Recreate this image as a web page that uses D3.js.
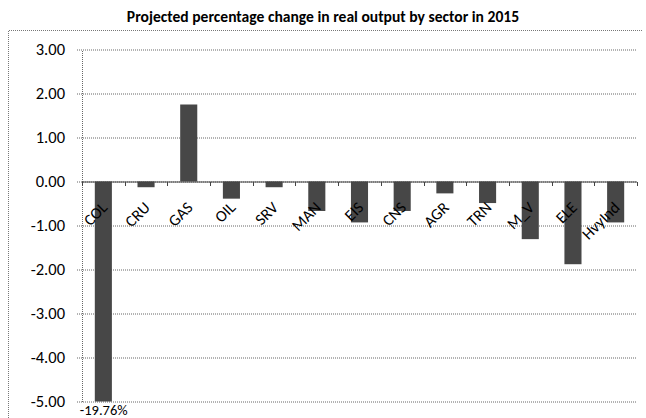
<!DOCTYPE html>
<html>
<head>
<meta charset="utf-8">
<script src="https://cdn.jsdelivr.net/npm/d3@7"></script>
<style>
  body { margin: 0; background: #fff; }
  text { font-family: Carlito, Calibri, Lato, "Liberation Sans", sans-serif; fill: #000; }
</style>
</head>
<body>
<div id="chart"></div>
<script>
// sectors and projected % change in real output (2015)
const sectors = ["COL", "CRU", "GAS", "OIL", "SRV", "MAN", "EIS", "CNS", "AGR", "TRN", "M_V", "ELE", "HvyInd"];
const changes = [-19.76, -0.13, 1.75, -0.39, -0.13, -0.67, -0.93, -0.67, -0.27, -0.49, -1.31, -1.88, -0.93];
const yTicks = [3, 2, 1, 0, -1, -2, -3, -4, -5];
const yMin = -5, yMax = 3;

const W = 646, H = 418;
const margin = {top: 49.5, right: 9, bottom: 16.5, left: 82},
    width = W - margin.left - margin.right,
    height = H - margin.top - margin.bottom;

// hyphen instead of unicode minus, like the original
const fmt = d3.formatLocale({decimal: ".", thousands: ",", grouping: [3], currency: ["", ""], minus: "-"}).format(".2f");

const root = d3.select("#chart").append("svg")
    .attr("width", W)
    .attr("height", H);

// title
root.append("text")
    .attr("x", 323).attr("y", 22)
    .attr("text-anchor", "middle")
    .style("font-size", "15.6px")
    .style("font-weight", "bold")
    .text("Projected percentage change in real output by sector in 2015");

// chart area border (top + left visible)
root.append("path")
    .attr("d", "M8.5,430 V30.5 H642")
    .attr("fill", "none")
    .attr("stroke", "#777")
    .attr("stroke-dasharray", "1,1");

const svg = root.append("g")
    .attr("transform", `translate(${margin.left},${margin.top})`);

const x = d3.scaleBand()
    .domain(sectors)
    .range([0, width])
    .paddingInner(0.6)
    .paddingOuter(0.3);

const y = d3.scaleLinear()
    .domain([yMin, yMax])
    .range([height, 0]);

// gridlines
svg.append("g")
  .selectAll("line")
  .data(yTicks)
  .join("line")
    .attr("x1", -5).attr("x2", width)
    .attr("y1", d => Math.round(y(d)) + 0.5)
    .attr("y2", d => Math.round(y(d)) + 0.5)
    .attr("stroke", "#666")
    .attr("stroke-dasharray", "1,1");

// y axis
const yAxis = svg.append("g")
    .call(d3.axisLeft(y).tickValues(yTicks).tickFormat(fmt).tickSize(0).tickPadding(17));
yAxis.select(".domain")
    .attr("stroke", "#666")
    .attr("stroke-dasharray", "1,1");
yAxis.selectAll("text")
    .style("font-size", "16.5px")
    .style("font-family", "Carlito, Calibri, Lato, sans-serif")
    .attr("fill", "#000");

// bars (clipped at axis min)
svg.append("g")
  .selectAll("rect")
  .data(sectors)
  .join("rect")
    .attr("x", (d, i) => x(d))
    .attr("width", x.bandwidth())
    .attr("y", (d, i) => y(Math.max(0, changes[i])))
    .attr("height", (d, i) => Math.abs(y(Math.max(yMin, changes[i])) - y(0)))
    .attr("fill", "#474747");

// zero axis with ticks between categories
const y0 = Math.round(y(0)) + 0.5;
svg.append("line")
    .attr("x1", 0).attr("x2", width)
    .attr("y1", y0).attr("y2", y0)
    .attr("stroke", "#444");
const step = x.step();
svg.append("g")
  .selectAll("line")
  .data(d3.range(sectors.length + 1))
  .join("line")
    .attr("x1", i => Math.round(x(sectors[0]) - x.paddingOuter() * step + i * step) + 0.5)
    .attr("x2", i => Math.round(x(sectors[0]) - x.paddingOuter() * step + i * step) + 0.5)
    .attr("y1", y0).attr("y2", y0 + 4)
    .attr("stroke", "#444");

// category labels, rotated
svg.append("g")
  .selectAll("text")
  .data(sectors)
  .join("text")
    .attr("text-anchor", "end")
    .attr("transform", d => `translate(${x(d) + x.bandwidth() / 2 + 5},${y(0) + 27}) rotate(-45)`)
    .style("font-size", "16px")
    .text(d => d);

// value label for clipped bar
const clipped = sectors.filter((d, i) => changes[i] < yMin);
svg.append("g")
  .selectAll("text")
  .data(clipped)
  .join("text")
    .attr("x", d => x(d) - 15)
    .attr("y", height + 13)
    .style("font-size", "14.5px")
    .text(d => fmt(changes[sectors.indexOf(d)]) + "%");
</script>
</body>
</html>
